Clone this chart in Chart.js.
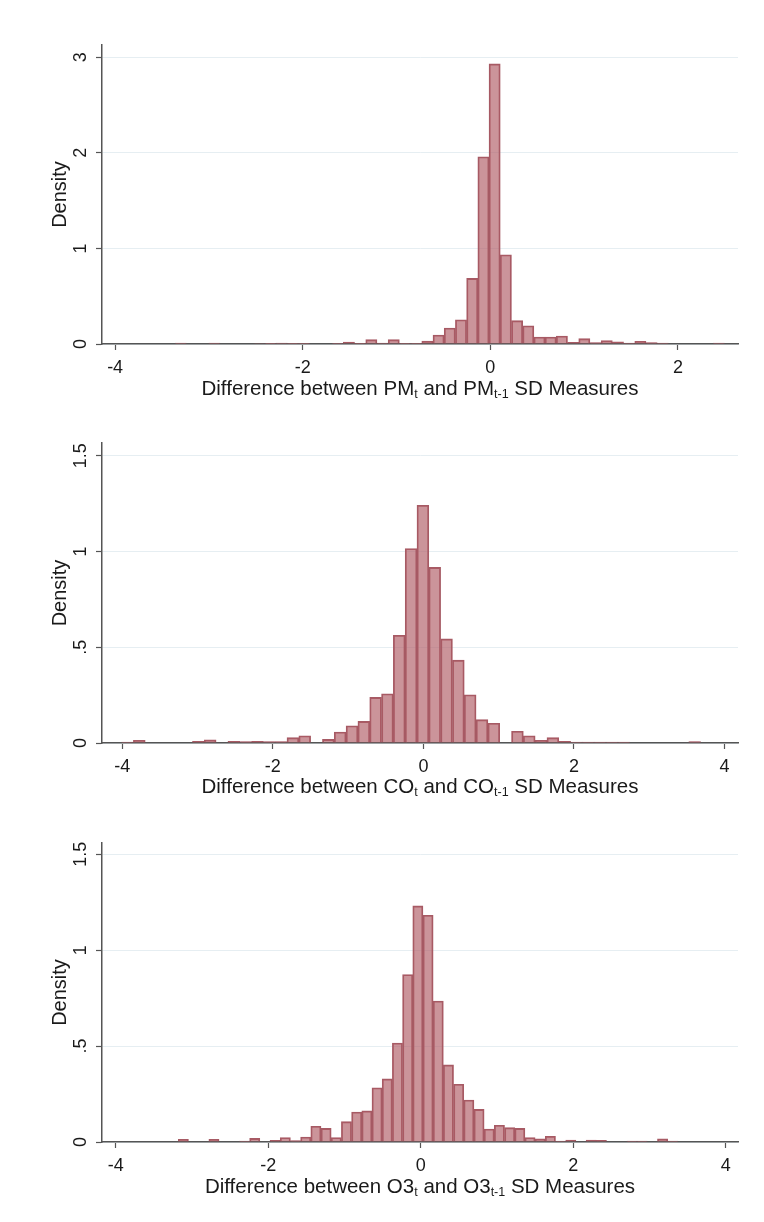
<!DOCTYPE html>
<html>
<head>
<meta charset="utf-8">
<script src="https://cdn.jsdelivr.net/npm/chart.js@4.4.1/dist/chart.umd.min.js"></script>
<style>
  body { margin: 0; background: #fff; }
  canvas { display: block; }
</style>
</head>
<body>
<canvas id="pm" width="764" height="400"></canvas>
<canvas id="co" width="764" height="400"></canvas>
<canvas id="o3" width="764" height="422"></canvas>
<script>
// histogram bins: left edge of first bin, bin width, density per bin
const pmStart = -3.36, pmWidth = 0.1195;
const pmDensity = [0.01, 0, 0, 0.01, 0, 0, 0, 0.005, 0.008, 0.01, 0.008, 0.008, 0, 0,
  0.006, 0.02, 0.004, 0.045, 0.01, 0.045, 0.008, 0.008, 0.03, 0.094, 0.167, 0.254, 0.686,
  1.958, 2.93, 0.934, 0.244, 0.19, 0.073, 0.073, 0.084, 0.017, 0.056, 0.014, 0.035, 0.024,
  0.01, 0.028, 0.014, 0.01, 0, 0, 0, 0, 0.01];

const coStart = -4.01, coWidth = 0.157;
const coDensity = [0.005, 0.014, 0, 0, 0, 0, 0.009, 0.016, 0, 0.009, 0.007, 0.009, 0.007,
  0.007, 0.028, 0.038, 0, 0.019, 0.057, 0.09, 0.113, 0.238, 0.257, 0.563, 1.016, 1.242,
  0.917, 0.544, 0.433, 0.252, 0.122, 0.103, 0, 0.061, 0.038, 0.014, 0.028, 0.009, 0.005,
  0.005, 0.005, 0.005, 0.005, 0, 0, 0, 0, 0, 0.007];

const o3Start = -3.18, o3Width = 0.1337;
const o3Density = [0.014, 0, 0, 0.014, 0, 0, 0.005, 0.019, 0, 0.009, 0.023, 0.007, 0.026,
  0.082, 0.071, 0.023, 0.106, 0.156, 0.162, 0.283, 0.329, 0.516, 0.873, 1.231, 1.182,
  0.735, 0.402, 0.301, 0.219, 0.17, 0.068, 0.087, 0.075, 0.071, 0.023, 0.016, 0.03, 0.005,
  0.01, 0, 0.01, 0.009, 0, 0, 0.005, 0.005, 0, 0.016, 0.005];

const pmXTicks = [-4, -2, 0, 2];
const wideXTicks = [-4, -2, 0, 2, 4];
const pmYTicks = [0, 1, 2, 3];
const pmYLabels = ['0', '1', '2', '3'];
const smallYTicks = [0, 0.5, 1, 1.5];
const smallYLabels = ['0', '.5', '1', '1.5'];

const FONT = '"Liberation Sans", Arial, Helvetica, sans-serif';
const INK = '#1a1a1a';
const AXIS = '#555';

// x axis title with subscripts, centred under the plot area
const subTitle = {
  id: 'subTitle',
  afterDraw(chart, args, opts) {
    const { ctx, chartArea } = chart;
    ctx.save();
    let total = 0;
    const widths = opts.parts.map(p => {
      ctx.font = (p[1] ? '12.5px ' : '20.5px ') + FONT;
      const w = ctx.measureText(p[0]).width;
      total += w;
      return w;
    });
    let x = (chartArea.left + chartArea.right) / 2 - total / 2;
    const y = chartArea.bottom + opts.offset;
    ctx.fillStyle = INK;
    ctx.textBaseline = 'alphabetic';
    ctx.textAlign = 'left';
    opts.parts.forEach((p, i) => {
      ctx.font = (p[1] ? '12.5px ' : '20.5px ') + FONT;
      ctx.fillText(p[0], x, p[1] ? y + 3 : y);
      x += widths[i];
    });
    ctx.restore();
  }
};

// y tick labels turned sideways, Stata style
const sideLabels = {
  id: 'sideLabels',
  afterDraw(chart, args, opts) {
    const { ctx } = chart;
    const s = chart.scales.y;
    ctx.save();
    ctx.font = '18px ' + FONT;
    ctx.fillStyle = INK;
    ctx.textAlign = 'center';
    ctx.textBaseline = 'middle';
    s.ticks.forEach((t, i) => {
      ctx.save();
      ctx.translate(opts.x, s.getPixelForValue(t.value));
      ctx.rotate(-Math.PI / 2);
      ctx.fillText(opts.labels[i], 0, 0);
      ctx.restore();
    });
    ctx.restore();
  }
};

function histogram(id, start, width, density, xMin, xMax, xTicks, yMax, yTicks, yLabels, top, bottomH, titleParts, titleOffset) {
  const points = density.map((d, i) => ({ x: start + (i + 0.5) * width, y: d }));
  return new Chart(document.getElementById(id), {
    type: 'bar',
    data: {
      datasets: [{
        data: points,
        backgroundColor: 'rgba(176, 92, 102, 0.66)',
        borderColor: '#a65a64',
        borderWidth: 1.2,
        borderSkipped: 'start',
        barPercentage: 1,
        categoryPercentage: 1
      }]
    },
    options: {
      responsive: false,
      animation: false,
      layout: { padding: { left: 0, right: 26, top: top, bottom: 0 } },
      plugins: {
        legend: { display: false },
        tooltip: { enabled: false },
        subTitle: { parts: titleParts, offset: titleOffset },
        sideLabels: { labels: yLabels, x: 81 }
      },
      scales: {
        x: {
          type: 'linear',
          min: xMin,
          max: xMax,
          offset: false,
          afterBuildTicks: s => { s.ticks = xTicks.map(v => ({ value: v })); },
          afterFit: s => { s.height = bottomH; },
          grid: { offset: false, drawOnChartArea: false, drawTicks: true, tickLength: 6, tickColor: AXIS, tickWidth: 1.2 },
          border: { color: AXIS, width: 1.5 },
          ticks: { font: { family: FONT, size: 18 }, color: INK, padding: 7, maxRotation: 0, autoSkip: false,
                   callback: v => String(v) }
        },
        y: {
          min: 0,
          max: yMax,
          afterBuildTicks: s => { s.ticks = yTicks.map(v => ({ value: v })); },
          afterFit: s => { s.width = 102; },
          grid: { color: '#e6eef2', lineWidth: 1, tickColor: AXIS, tickLength: 6, tickWidth: 1.2 },
          border: { color: AXIS, width: 1.5 },
          ticks: { display: false },
          title: { display: true, text: 'Density', color: INK, font: { family: FONT, size: 20 }, padding: { top: 48 } }
        }
      }
    },
    plugins: [subTitle, sideLabels]
  });
}

histogram('pm', pmStart, pmWidth, pmDensity, -4.14, 2.64, pmXTicks, 3.128, pmYTicks, pmYLabels, 45, 56,
  [['Difference between PM', 0], ['t', 1], [' and PM', 0], ['t-1', 1], [' SD Measures', 0]], 51);
histogram('co', coStart, coWidth, coDensity, -4.27, 4.18, wideXTicks, 1.567, smallYTicks, smallYLabels, 43, 57,
  [['Difference between CO', 0], ['t', 1], [' and CO', 0], ['t-1', 1], [' SD Measures', 0]], 50);
histogram('o3', o3Start, o3Width, o3Density, -4.18, 4.16, wideXTicks, 1.559, smallYTicks, smallYLabels, 43, 80,
  [['Difference between O3', 0], ['t', 1], [' and O3', 0], ['t-1', 1], [' SD Measures', 0]], 51);
</script>
</body>
</html>
